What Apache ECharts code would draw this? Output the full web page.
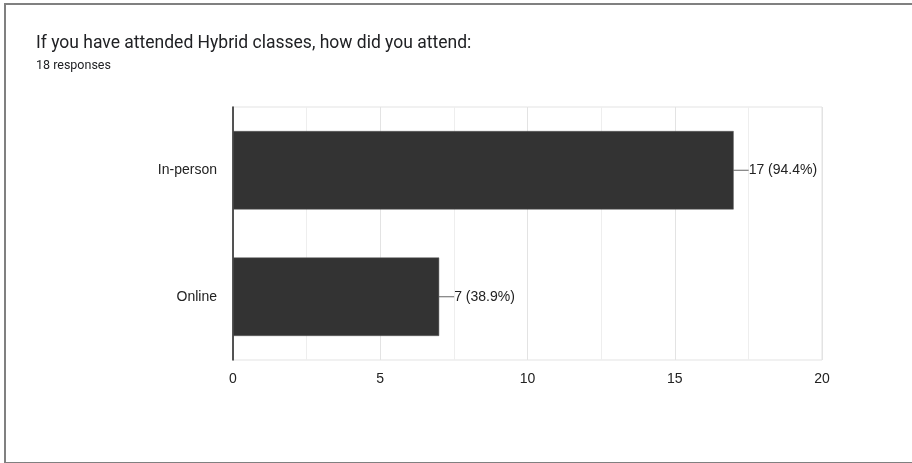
<!DOCTYPE html>
<html><head><meta charset="utf-8">
<script src="https://cdn.jsdelivr.net/npm/echarts@6/dist/echarts.min.js"></script>
<style>
html,body{margin:0;padding:0;background:#fff;overflow:hidden;}
#frame{position:absolute;left:4px;top:3px;width:920px;height:457px;border:2px solid #808080;border-right:none;box-sizing:content-box;}
#c{position:absolute;left:0;top:0;width:912px;height:463px;}
</style></head>
<body>
<div id="frame"></div>
<div id="c"></div>
<script>
const categories = ['In-person', 'Online'];
const counts = [17, 7];
const percents = ['94.4%', '38.9%'];
const titleText = 'If you have attended Hybrid classes, how did you attend:';
const subtitleText = '18 responses';

const chart = echarts.init(document.getElementById('c'));
chart.setOption({
  animation: false,
  title: {
    text: titleText,
    subtext: subtitleText,
    left: 31, top: 30,
    itemGap: 6,
    textStyle: {fontFamily: 'Roboto', fontSize: 17.5, fontWeight: 'normal', color: '#202124'},
    subtextStyle: {fontFamily: 'Roboto', fontSize: 12.5, color: '#202124'}
  },
  grid: {left: 233, right: 90, top: 107, bottom: 103, show: true, borderColor: '#e3e3e3', borderWidth: 1},
  xAxis: {
    type: 'value', min: 0, max: 20, interval: 5,
    axisLine: {show: false}, axisTick: {show: false},
    splitLine: {lineStyle: {color: '#e3e3e3'}},
    minorTick: {show: false, splitNumber: 2},
    minorSplitLine: {show: true, lineStyle: {color: '#eeeeee'}},
    axisLabel: {fontFamily: 'Liberation Sans', fontSize: 14, color: '#222', margin: 12}
  },
  yAxis: {
    type: 'category', data: categories, inverse: true,
    axisLine: {show: true, lineStyle: {color: '#222', width: 1.5}},
    axisTick: {show: false},
    axisLabel: {fontFamily: 'Liberation Sans', fontSize: 14, color: '#222', margin: 16}
  },
  series: [{
    type: 'bar',
    data: counts,
    barWidth: '62%',
    itemStyle: {color: '#333333', borderColor: '#555', borderWidth: 0.5},
    label: {
      show: true, position: 'right', distance: 0,
      fontFamily: 'Liberation Sans', fontSize: 14, color: '#222',
      formatter: p => p.value + ' (' + percents[p.dataIndex] + ')'
    },
    labelLayout: {dx: 15},
    labelLine: {show: true, lineStyle: {color: '#666', width: 1}}
  }]
});
</script>
</body></html>
